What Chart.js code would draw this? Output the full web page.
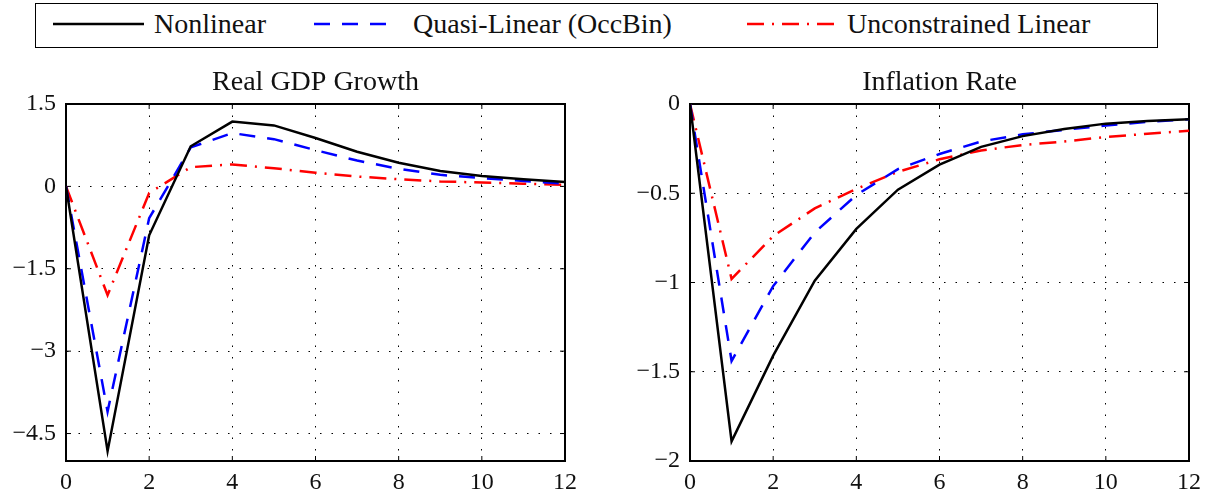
<!DOCTYPE html>
<html>
<head>
<meta charset="utf-8">
<script src="https://cdn.jsdelivr.net/npm/chart.js@4/dist/chart.umd.min.js"></script>
<style>
  body { margin: 0; background: #fff; width: 1210px; height: 500px; position: relative; overflow: hidden; font-family: 'Liberation Serif', serif; }
  #legend { position: absolute; left: 35px; top: 3px; width: 1121px; height: 43px; border: 1.5px solid #000; }
  .item { position: absolute; top: 0; height: 43px; }
  .item svg { position: absolute; top: 0; }
  .item span { position: absolute; top: 5px; font-size: 28px; line-height: 30px; white-space: nowrap; color: #111; }
  canvas { position: absolute; }
</style>
</head>
<body>
<div id="legend"></div>
<canvas id="gdp-canvas" width="600" height="440" style="left:0px;top:60px"></canvas>
<canvas id="infl-canvas" width="590" height="440" style="left:620px;top:60px"></canvas>
<script>
const periods = [0, 1, 2, 3, 4, 5, 6, 7, 8, 9, 10, 11, 12]
const seriesNames = ['Nonlinear', 'Quasi-Linear (OccBin)', 'Unconstrained Linear']

// Real GDP growth
const gdpNonlinear = [0, -4.82, -0.89, 0.73, 1.18, 1.11, 0.88, 0.63, 0.43, 0.28, 0.19, 0.13, 0.08]
const gdpQuasi = [0, -4.1, -0.58, 0.71, 0.97, 0.86, 0.66, 0.47, 0.32, 0.21, 0.15, 0.10, 0.05]
const gdpLinear = [0, -1.98, -0.12, 0.35, 0.40, 0.33, 0.25, 0.18, 0.13, 0.09, 0.07, 0.05, 0.03]

// Inflation rate
const inflNonlinear = [0, -1.89, -1.41, -0.99, -0.70, -0.48, -0.34, -0.24, -0.18, -0.14, -0.11, -0.095, -0.085]
const inflQuasi = [0, -1.44, -1.02, -0.72, -0.51, -0.365, -0.28, -0.21, -0.17, -0.145, -0.12, -0.10, -0.085]
const inflLinear = [0, -0.98, -0.74, -0.585, -0.475, -0.38, -0.31, -0.26, -0.23, -0.21, -0.185, -0.167, -0.15]

const xTicks = [0, 2, 4, 6, 8, 10, 12]
const gdpTicks = [1.5, 0, -1.5, -3, -4.5]
const inflTicks = [0, -0.5, -1, -1.5, -2]

const COLORS = ['#000000', '#0000ff', '#ff0000']
const DASHES = [[], [16, 12], [17, 8, 2, 8]]

Chart.defaults.font.family = "'Liberation Serif', serif"
Chart.defaults.color = '#111'

const minus = v => (v < 0 ? '\u2212' + String(-v) : String(v))

// full box + small inward ticks like matlab axes
const boxPlugin = {
  id: 'box',
  beforeDatasetsDraw(chart){
    const ctx = chart.ctx
    const a = chart.chartArea
    const x = chart.scales.x
    const y = chart.scales.y
    ctx.save()
    ctx.strokeStyle = '#000'
    ctx.lineWidth = 1
    ctx.beginPath()
    x.ticks.forEach(t => {
      const px = x.getPixelForValue(t.value)
      ctx.moveTo(px, a.bottom); ctx.lineTo(px, a.bottom - 5)
      ctx.moveTo(px, a.top); ctx.lineTo(px, a.top + 5)
    })
    y.ticks.forEach(t => {
      const py = y.getPixelForValue(t.value)
      ctx.moveTo(a.left, py); ctx.lineTo(a.left + 5, py)
      ctx.moveTo(a.right, py); ctx.lineTo(a.right - 5, py)
    })
    ctx.stroke()
    ctx.lineWidth = 2
    ctx.strokeRect(a.left, a.top, a.right - a.left, a.bottom - a.top)
    ctx.restore()
  }
}

function makeDatasets(values){
  return values.map((arr, i) => ({
    label: seriesNames[i],
    data: periods.map((t, j) => ({x: t, y: arr[j]})),
    borderColor: COLORS[i],
    borderWidth: 2.5,
    borderDash: DASHES[i],
    pointRadius: 0,
    tension: 0,
    fill: false
  }))
}

function drawChart(id, title, values, yMin, yMax, yTicks, yWidth, padRight){
  new Chart(document.getElementById(id), {
    type: 'line',
    data: {datasets: makeDatasets(values)},
    plugins: [boxPlugin],
    options: {
      responsive: false,
      animation: false,
      layout: {padding: {right: padRight}},
      plugins: {
        legend: {display: false},
        tooltip: {enabled: false},
        title: {
          display: true,
          text: title,
          fullSize: false,
          color: '#111',
          font: {size: 28, weight: 'normal', lineHeight: 1.2},
          padding: {top: 6, bottom: 4.4}
        }
      },
      scales: {
        x: {
          type: 'linear',
          min: 0,
          max: 12,
          afterBuildTicks: scale => { scale.ticks = xTicks.map(v => ({value: v})) },
          afterFit: scale => { scale.height = 39 },
          grid: {color: '#000', lineWidth: 1, drawTicks: false},
          border: {color: '#000', width: 2, dash: [1.5, 10]},
          ticks: {font: {size: 24}, padding: 7, maxRotation: 0, color: '#111', callback: v => minus(v)}
        },
        y: {
          min: yMin,
          max: yMax,
          afterBuildTicks: scale => { scale.ticks = yTicks.map(v => ({value: v})) },
          afterFit: scale => { scale.width = yWidth },
          grid: {color: '#000', lineWidth: 1, drawTicks: false},
          border: {color: '#000', width: 2, dash: [1.5, 10]},
          ticks: {font: {size: 24}, padding: 10, color: '#111', callback: v => minus(v)}
        }
      }
    }
  })
}

drawChart('gdp-canvas', 'Real GDP Growth', [gdpNonlinear, gdpQuasi, gdpLinear], -5, 1.5, gdpTicks, 66, 35)
drawChart('infl-canvas', 'Inflation Rate', [inflNonlinear, inflQuasi, inflLinear], -2, 0, inflTicks, 70, 21)

// legend
const legendPos = [{line: 17, w: 91, text: 118}, {line: 278, w: 80, text: 377}, {line: 711, w: 93, text: 811}]
const legend = document.getElementById('legend')
seriesNames.forEach((name, i) => {
  const p = legendPos[i]
  const item = document.createElement('div')
  item.className = 'item'
  item.style.left = '0px'
  const dash = DASHES[i].length ? DASHES[i].join(' ') : 'none'
  item.innerHTML =
    '<svg width="' + (p.line + p.w + 2) + '" height="43"><line x1="' + p.line + '" y1="20" x2="' + (p.line + p.w) +
    '" y2="20" stroke="' + COLORS[i] + '" stroke-width="2.5" stroke-dasharray="' + dash + '"/></svg>' +
    '<span style="left:' + p.text + 'px">' + name + '</span>'
  legend.appendChild(item)
})
</script>
</body>
</html>
